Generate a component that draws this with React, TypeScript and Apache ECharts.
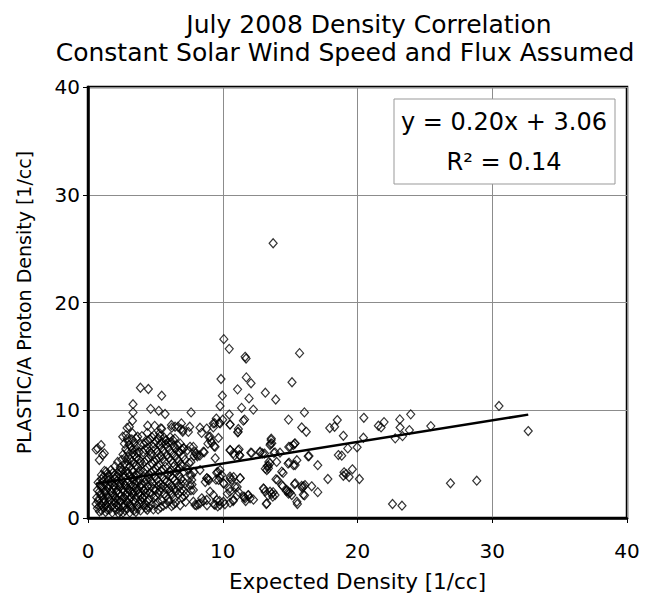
import React, { useEffect, useRef } from "react";
import * as echarts from "echarts";

const titleLines = ["July 2008 Density Correlation", "Constant Solar Wind Speed and Flux Assumed"];
const xAxisTitle = "Expected Density [1/cc]";
const yAxisTitle = "PLASTIC/A Proton Density [1/cc]";
const axisMin = 0;
const axisMax = 40;
const axisStep = 10;
const fitSlope = 0.2;
const fitIntercept = 3.06;
const fitEquation = "y = 0.20x + 3.06";
const fitR2 = "R² = 0.14";

// dense core near the origin
const coreCluster: [number, number][] = [
  [0.7, 0.9], [1.0, 0.7], [1.3, 0.55], [1.6, 0.8], [1.8, 0.5], [2.1, 0.75], [2.4, 0.6], [2.6, 0.5], [2.9, 0.85], [3.1, 0.5], [3.4, 0.7], [3.66, 0.87], [4.14, 1.18], [4.85, 0.8],
  [0.6, 1.3], [0.85, 1.1], [1.1, 1.45], [1.35, 1.2], [1.55, 1.5], [1.75, 1.1], [2.0, 1.35], [2.25, 1.05], [2.45, 1.5], [2.7, 1.2], [2.95, 1.4], [3.2, 1.1], [3.5, 1.45], [3.8, 1.3],
  [0.65, 1.9], [0.9, 2.2], [1.15, 1.75], [1.4, 2.05], [1.6, 1.7], [1.85, 2.15], [2.05, 1.85], [2.3, 2.25], [2.55, 1.8], [2.8, 2.1], [3.05, 1.75], [3.3, 2.2], [3.55, 1.9], [3.9, 2.1],
  [0.7, 2.6], [0.95, 2.9], [1.2, 2.45], [1.45, 2.8], [1.7, 2.5], [1.95, 2.95], [2.2, 2.6], [2.4, 2.9], [2.65, 2.45], [2.9, 2.75], [3.15, 2.5], [3.4, 2.9], [3.7, 2.6], [4.0, 2.8],
  [0.75, 3.3], [1.0, 3.6], [1.25, 3.15], [1.5, 3.5], [1.75, 3.2], [2.0, 3.65], [2.25, 3.3], [2.5, 3.55], [2.75, 3.1], [3.0, 3.45], [3.25, 3.7], [3.5, 3.2], [3.8, 3.5],
  [1.0, 4.0], [1.22, 4.37], [1.55, 3.9], [1.85, 4.2], [2.1, 3.85], [2.35, 4.4], [2.6, 4.05], [2.85, 4.3], [3.1, 3.95], [3.35, 4.25], [3.6, 4.0], [3.9, 4.4], [1.34, 4.3],
];

// further readings inside the core
const coreFill: [number, number][] = [
  [0.85, 0.6], [1.15, 0.95], [1.45, 0.75], [1.95, 0.95], [2.25, 0.45], [2.75, 0.7], [3.25, 0.9], [3.55, 0.55], [3.9, 0.7], [4.4, 0.75],
  [0.75, 1.55], [1.0, 1.2], [1.25, 1.6], [1.45, 1.0], [1.9, 1.6], [2.15, 1.2], [2.35, 1.55], [2.6, 1.0], [2.85, 1.6], [3.1, 1.3], [3.35, 1.6], [3.65, 1.1], [4.0, 1.5], [4.3, 1.2],
  [0.8, 1.75], [1.05, 2.0], [1.3, 2.35], [1.5, 1.9], [1.75, 2.35], [1.95, 2.05], [2.2, 1.7], [2.45, 2.1], [2.7, 1.85], [2.95, 2.35], [3.2, 1.95], [3.45, 2.4], [3.75, 2.25], [4.05, 1.9],
  [0.85, 2.45], [1.1, 2.75], [1.35, 2.55], [1.6, 3.0], [1.85, 2.7], [2.1, 2.4], [2.3, 3.0], [2.55, 2.7], [2.8, 2.95], [3.05, 2.65], [3.3, 2.4], [3.55, 2.75], [3.85, 2.95], [4.15, 2.5],
  [0.9, 3.1], [1.15, 3.45], [1.4, 3.75], [1.65, 3.35], [1.9, 3.05], [2.15, 3.5], [2.4, 3.15], [2.65, 3.75], [2.9, 3.3], [3.15, 3.1], [3.4, 3.55], [3.65, 3.35], [3.95, 3.15], [4.1, 3.7],
  [1.15, 3.85], [1.45, 4.15], [1.7, 4.45], [1.95, 3.95], [2.25, 4.1], [2.5, 4.3], [2.75, 3.9], [3.0, 4.15], [3.25, 4.45], [3.5, 3.85], [3.75, 4.2],
];

// spread between x = 2 and x = 8
const innerSpread: [number, number][] = [
  [2.4, 4.7], [2.7, 5.0], [2.5, 5.4], [2.9, 5.3], [3.1, 4.8], [3.4, 5.1], [3.7, 4.7], [2.6, 5.9], [3.0, 5.7], [3.3, 6.0], [3.6, 5.6], [3.9, 5.3],
  [2.8, 6.4], [3.2, 6.6], [3.5, 6.3], [3.8, 6.1], [2.7, 6.9], [3.0, 7.1], [3.4, 6.95], [3.9, 6.8], [2.2, 5.2], [2.0, 4.8],
  [4.2, 3.3], [4.5, 3.8], [4.8, 3.2], [5.1, 3.6], [5.4, 3.1], [5.7, 3.5], [6.0, 3.2], [6.3, 3.7], [6.6, 3.3], [6.9, 3.6], [7.2, 3.2],
  [4.1, 4.3], [4.4, 4.7], [4.7, 4.2], [5.0, 4.6], [5.3, 4.1], [5.6, 4.5], [5.9, 4.0], [6.2, 4.4], [6.5, 4.2], [6.8, 4.6], [7.1, 4.3], [7.4, 4.5],
  [4.2, 5.2], [4.5, 5.6], [4.8, 5.0], [5.1, 5.4], [5.4, 5.8], [5.7, 5.2], [6.0, 5.6], [6.3, 5.1], [6.6, 5.5], [6.9, 5.0], [7.2, 5.4], [7.5, 5.1],
  [4.1, 6.1], [4.4, 6.5], [4.7, 6.0], [5.0, 6.4], [5.3, 6.8], [5.6, 6.2], [5.9, 6.6], [6.2, 6.0], [6.5, 6.4], [6.8, 6.1], [7.1, 6.5],
  [4.3, 7.0], [4.6, 7.3], [4.9, 6.9], [5.2, 7.4], [5.5, 7.0], [5.8, 7.2], [6.1, 7.5], [6.45, 7.37], [6.84, 6.9], [7.1, 6.44], [7.37, 6.29], [6.7, 6.13], [5.78, 7.2], [6.18, 7.06],
  [4.0, 7.6], [4.4, 7.9], [4.9, 7.7], [6.68, 8.47], [7.05, 8.16],
  [3.9, 1.7], [4.2, 2.0], [4.4, 1.5], [4.6, 2.4], [4.9, 1.9], [5.2, 2.3], [5.5, 1.6], [5.8, 2.0], [6.1, 2.5], [6.4, 1.8], [6.7, 2.2], [7.0, 1.9], [7.3, 2.3],
  [4.3, 2.7], [4.7, 2.9], [5.0, 2.6], [5.4, 2.8], [5.8, 2.7], [6.2, 2.9], [4.5, 1.0], [5.0, 1.25], [5.4, 1.0], [5.8, 1.3], [6.2, 1.1], [6.5, 1.4], [6.84, 1.18], [7.24, 1.49],
  [6.92, 3.13], [7.1, 2.5], [7.72, 3.1], [7.64, 2.57],
  [0.97, 6.77], [0.72, 6.46], [1.21, 6.0], [0.84, 5.38], [1.09, 5.84], [0.6, 6.35],
];

// further readings between x = 2.5 and x = 7.5
const innerFill: [number, number][] = [
  [2.55, 4.5], [2.85, 4.85], [3.25, 5.25], [3.55, 4.9], [3.85, 5.05], [2.75, 5.6], [3.15, 5.45], [3.45, 5.85], [3.75, 5.45], [2.95, 6.15], [3.3, 6.35], [3.65, 6.05], [3.05, 6.8], [3.6, 6.65], [2.9, 7.35], [3.25, 7.3],
  [4.35, 3.55], [4.65, 3.45], [4.95, 3.9], [5.25, 3.35], [5.55, 3.8], [5.85, 3.4], [6.15, 3.95], [6.45, 3.5], [6.75, 3.95], [7.05, 3.45],
  [4.25, 4.5], [4.55, 4.05], [4.85, 4.4], [5.15, 4.85], [5.45, 4.4], [5.75, 4.75], [6.05, 4.3], [6.35, 4.75], [6.65, 4.45], [6.95, 4.85],
  [4.35, 5.4], [4.65, 5.8], [4.95, 5.25], [5.25, 5.6], [5.55, 5.5], [5.85, 5.85], [6.15, 5.35], [6.45, 5.8], [6.75, 5.25], [7.05, 5.7],
  [4.25, 6.35], [4.55, 6.2], [4.85, 6.6], [5.15, 6.15], [5.45, 6.5], [5.75, 6.85], [6.05, 6.3], [6.35, 6.7], [6.65, 6.75], [6.95, 6.35],
  [4.15, 6.85], [4.45, 7.2], [4.75, 7.5], [5.05, 7.1], [5.35, 7.6], [5.65, 7.45], [6.0, 7.0], [6.3, 7.25],
  [4.05, 1.9], [4.3, 2.3], [4.55, 1.75], [4.75, 2.15], [5.05, 2.0], [5.35, 2.5], [5.65, 2.25], [5.95, 1.75], [6.25, 2.2], [6.55, 2.5], [6.85, 2.45], [7.15, 2.05],
  [4.15, 2.6], [4.45, 3.0], [4.85, 2.7], [5.2, 3.0], [5.6, 2.95], [6.0, 2.75], [6.4, 2.65], [6.7, 2.9],
  [4.7, 1.2], [5.2, 1.5], [5.6, 1.15], [6.0, 1.55], [6.35, 1.25], [4.3, 0.9], [5.2, 0.8],
];

// upper-left points above the cluster
const upperLeft: [number, number][] = [
  [3.89, 12.09], [4.48, 11.97], [5.47, 11.35], [3.34, 10.56], [3.34, 9.8], [4.65, 10.13], [5.25, 9.95], [5.72, 9.65], [3.3, 9.03], [2.9, 8.36],
  [4.43, 8.56], [4.95, 8.55], [5.47, 8.28], [6.21, 8.38], [6.46, 8.47], [6.9, 8.25], [7.03, 8.0], [7.45, 7.99], [6.19, 8.63], [6.93, 8.78], [7.55, 8.47],
  [5.4, 8.32], [5.32, 7.86], [3.07, 8.47], [2.82, 7.7], [2.58, 7.54], [3.3, 7.86], [3.56, 7.39], [3.69, 7.54], [7.65, 9.8],
];

// spread between x = 7.5 and x = 17.5
const middleSpread: [number, number][] = [
  [8.31, 8.38], [8.81, 8.3], [8.43, 7.9], [11.16, 8.26], [8.97, 7.52], [9.1, 7.2], [8.9, 6.9], [9.3, 8.78], [9.75, 8.84], [10.54, 8.66], [11.53, 9.03], [11.11, 7.95],
  [9.68, 7.43], [9.36, 6.66], [9.44, 5.54], [7.57, 6.61], [7.94, 6.15], [8.07, 5.84], [8.56, 6.15], [7.87, 5.75], [9.06, 7.54], [9.18, 6.98], [9.43, 6.61],
  [10.54, 6.31], [10.79, 6.0], [11.21, 6.37], [11.23, 5.84], [12.08, 6.06], [12.77, 6.15], [12.96, 6.0], [13.59, 7.24], [13.51, 6.77], [13.64, 6.93], [13.88, 6.09],
  [14.25, 6.06], [15.0, 6.61], [15.24, 6.77], [13.39, 4.61], [13.27, 4.45], [13.51, 5.07], [13.39, 4.85], [14.92, 5.13], [15.37, 4.92], [14.38, 4.3],
  [8.31, 4.45], [7.57, 3.99], [7.7, 3.53], [7.82, 2.6], [7.57, 3.06], [8.81, 3.68], [8.93, 3.59], [9.55, 4.2], [9.8, 4.45], [9.92, 3.99], [10.05, 3.22], [9.68, 3.53],
  [10.54, 3.83], [10.67, 3.53], [11.28, 3.68], [10.91, 2.9], [10.54, 2.44], [11.16, 2.44], [11.66, 1.83], [11.53, 1.98], [12.03, 1.83], [11.9, 2.13],
  [9.06, 2.44], [9.3, 2.13], [9.55, 1.67], [10.05, 1.51], [9.8, 1.21], [9.43, 1.21], [8.81, 1.67], [8.44, 1.83], [8.31, 1.36], [7.94, 1.21], [7.82, 1.51],
  [10.79, 1.67], [10.54, 1.42], [13.02, 2.75], [13.14, 2.44], [13.51, 2.44], [13.64, 2.23], [13.88, 2.13], [13.71, 1.98], [14.06, 3.53], [14.38, 3.06],
  [14.75, 2.6], [15.0, 2.35], [14.87, 2.44], [15.12, 2.13], [15.5, 1.51], [13.27, 1.36], [14.45, 2.94], [13.95, 3.6], [14.48, 4.18], [14.0, 5.2],
  [12.15, 6.04], [12.76, 6.07], [13.1, 5.98], [13.8, 6.04], [10.56, 6.28], [11.14, 6.28], [10.87, 5.8], [11.27, 5.8], [13.42, 5.2], [13.3, 4.83], [13.16, 4.58],
  [15.5, 5.36], [14.85, 5.05], [15.25, 4.9], [16.34, 5.73], [17.05, 4.9], [16.4, 5.75], [15.37, 6.93], [15.86, 8.4], [16.2, 8.0], [16.06, 9.8], [14.88, 9.13],
  [15.33, 6.9], [14.9, 6.6], [13.6, 7.37], [13.55, 6.9],
  [7.64, 5.2], [7.85, 4.27], [7.69, 3.96], [8.83, 3.7], [8.97, 3.5], [8.7, 3.34], [9.63, 4.27], [9.76, 3.8], [9.5, 3.56], [10.56, 3.65], [10.8, 3.8], [11.3, 3.7],
  [10.1, 3.19], [10.34, 2.26], [10.5, 2.72], [11.07, 2.88], [11.07, 2.1], [10.77, 1.58], [11.6, 1.95], [11.88, 2.1], [11.7, 1.58], [12.28, 1.7],
  [10.16, 1.27], [9.76, 1.58], [9.36, 1.27], [9.63, 1.08], [8.57, 1.58], [8.83, 1.18], [8.04, 1.18], [8.17, 1.27],
  [8.62, 6.1], [8.3, 5.8], [8.12, 5.73], [7.82, 6.6], [7.98, 6.0],
];

// high values between x = 9 and x = 16
const highPoints: [number, number][] = [
  [13.74, 25.5], [10.08, 16.6], [10.48, 15.7], [11.66, 14.96], [11.73, 14.8], [15.7, 15.3], [9.87, 12.9], [11.75, 13.05], [12.1, 12.5], [15.14, 12.6],
  [11.1, 11.94], [13.16, 11.63], [9.97, 11.35], [11.95, 11.1], [13.93, 11.0], [9.8, 10.39], [11.4, 10.22], [12.27, 10.06], [10.48, 9.6], [11.62, 9.13],
  [9.52, 9.23], [10.0, 9.12], [10.54, 8.69], [11.14, 8.0], [9.4, 8.8], [9.8, 8.78], [9.3, 8.41],
];

// points to the right of x = 15
const farSpread: [number, number][] = [
  [15.33, 3.13], [16.0, 2.94], [15.9, 2.8], [16.6, 2.94], [15.86, 2.97], [16.1, 3.06], [15.37, 3.22], [14.72, 2.5], [14.88, 2.26], [16.07, 2.1], [15.98, 2.16],
  [13.05, 2.7], [13.74, 2.4], [13.37, 2.1], [17.05, 2.4], [13.23, 1.3], [15.54, 1.3], [17.8, 3.62], [20.14, 3.62], [19.0, 4.24], [19.15, 4.08], [18.95, 3.92],
  [19.38, 3.8], [19.62, 4.52], [18.58, 5.84], [18.83, 5.78], [19.28, 6.46], [19.97, 6.56], [18.95, 7.63], [20.44, 7.45], [17.94, 8.35], [18.3, 8.47], [18.5, 9.09],
  [20.47, 9.3], [21.55, 8.56], [21.75, 8.41], [21.97, 8.9], [23.14, 9.15], [23.16, 8.4], [22.8, 7.39], [23.34, 7.6], [23.95, 9.62], [23.85, 8.16], [25.44, 8.53],
  [26.9, 3.22], [28.85, 3.46], [22.6, 1.3], [23.3, 1.14], [30.5, 10.4], [32.67, 8.07],
];

const allPoints = [...coreCluster, ...coreFill, ...innerSpread, ...innerFill, ...upperLeft, ...middleSpread, ...highPoints, ...farSpread];

export default function App() {
  const ref = useRef<HTMLDivElement>(null);
  useEffect(() => {
    if (!ref.current) return;
    const chart = echarts.init(ref.current, null, { renderer: "svg" });
    const xs = allPoints.map((p) => p[0]);
    const xMin = Math.min(...xs);
    const xMax = Math.max(...xs);
    const font = "DejaVu Sans";
    const titleStyle = { fontFamily: font, fontSize: 25, fontWeight: "normal", color: "#000" };
    chart.setOption({
      animation: false,
      backgroundColor: "#fff",
      title: [
        { text: titleLines[0], left: 364, top: 7, textAlign: "center", textStyle: titleStyle },
        { text: titleLines[1], left: 340, top: 35, textAlign: "center", textStyle: titleStyle },
      ],
      grid: {
        left: 88, right: 24, top: 87, bottom: 80,
        show: true, borderColor: "#000", borderWidth: 2.5, backgroundColor: "transparent",
      },
      xAxis: {
        type: "value", min: axisMin, max: axisMax, interval: axisStep,
        name: xAxisTitle, nameLocation: "middle", nameGap: 52,
        nameTextStyle: { fontFamily: font, fontSize: 21.5, color: "#000" },
        axisLine: { show: true, onZero: false, lineStyle: { color: "#000", width: 2.5 } },
        axisTick: { show: true, length: 5, lineStyle: { color: "#000" } },
        axisLabel: { fontFamily: font, fontSize: 20, color: "#000", margin: 23 },
        splitLine: { show: true, lineStyle: { color: "#8c8c8c", width: 1 } },
      },
      yAxis: {
        type: "value", min: axisMin, max: axisMax, interval: axisStep,
        name: yAxisTitle, nameLocation: "middle", nameGap: 55,
        nameTextStyle: { fontFamily: font, fontSize: 19, color: "#000" },
        axisLine: { show: true, onZero: false, lineStyle: { color: "#000", width: 2.5 } },
        axisTick: { show: true, length: 5, lineStyle: { color: "#000" } },
        axisLabel: { fontFamily: font, fontSize: 20, color: "#000", margin: 8 },
        splitLine: { show: true, lineStyle: { color: "#8c8c8c", width: 1 } },
      },
      series: [
        {
          type: "scatter",
          data: allPoints,
          symbol: "diamond",
          symbolSize: [8, 9],
          itemStyle: { color: "transparent", borderColor: "#000", borderWidth: 1.2 },
          z: 3,
        },
        {
          type: "line",
          data: [[xMin, fitSlope * xMin + fitIntercept], [xMax, fitSlope * xMax + fitIntercept]],
          showSymbol: false,
          symbol: "none",
          lineStyle: { color: "#000", width: 2.5 },
          z: 4,
        },
      ],
      graphic: [
        {
          type: "rect",
          shape: { x: 394, y: 99, width: 221, height: 85 },
          style: { fill: "#fff", stroke: "#999", lineWidth: 1 },
          z: 10,
        },
        {
          type: "text",
          x: 504, y: 122,
          style: { text: fitEquation, fontFamily: font, fontSize: 24, fill: "#000", align: "center", verticalAlign: "middle" },
          z: 11,
        },
        {
          type: "text",
          x: 504, y: 162,
          style: { text: fitR2, fontFamily: font, fontSize: 24, fill: "#000", align: "center", verticalAlign: "middle" },
          z: 11,
        },
      ],
    });
    return () => chart.dispose();
  }, []);
  return <div ref={ref} style={{ position: "fixed", left: 0, top: 0, width: 651, height: 598 }} />;
}
